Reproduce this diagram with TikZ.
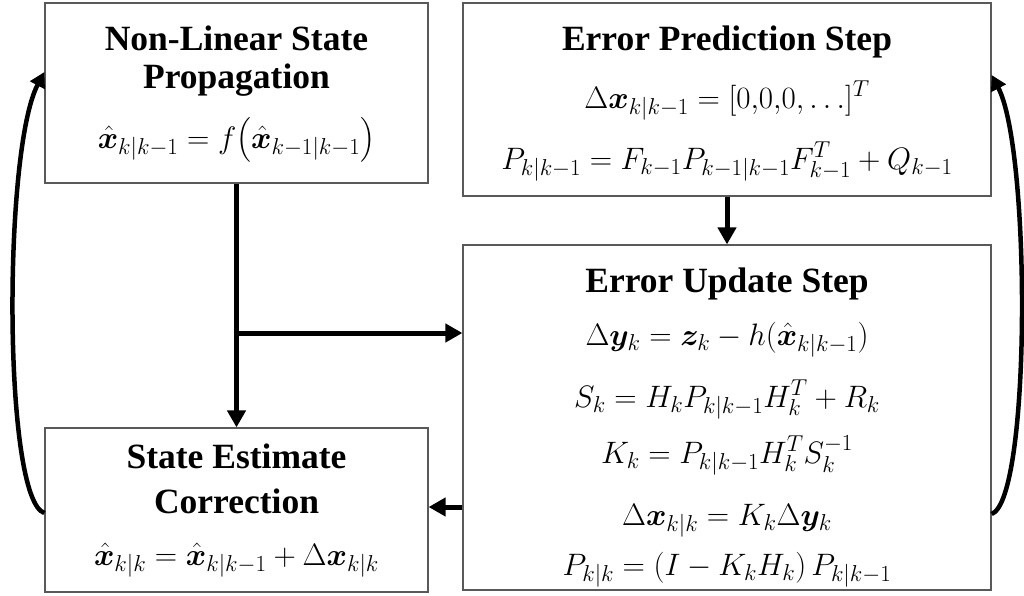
\RequirePackage{fix-cm}
\documentclass[tikz,border=0pt]{standalone}
\usepackage{amsmath}
\usepackage{bm}
\usepackage{fontspec}
\setmainfont{Liberation Serif}
\DeclareMathSizes{31}{31}{23}{17}
\usetikzlibrary{arrows.meta}
\begin{document}
\begin{tikzpicture}[x=1pt,y=-1pt,
  box/.style={draw=black!65, line width=1.2pt, inner sep=0pt, rectangle},
  ttl/.style={font=\fontsize{35.5}{39}\selectfont\bfseries, anchor=base, inner sep=0pt},
  eq/.style={font=\fontsize{31}{36}\selectfont, anchor=base, inner sep=0pt},
  arr/.style={line width=5pt, -{Triangle[length=17pt,width=18pt]}},
  carr/.style={line width=4.5pt, -{Triangle[length=15pt,width=16pt]}}]
\useasboundingbox (0,0) rectangle (1024,595);
% boxes
\node[box, minimum width=383pt, minimum height=180pt] (b1) at (236.5,93) {};
\node[box, minimum width=528pt, minimum height=193pt] (b2) at (727,99.5) {};
\node[box, minimum width=383pt, minimum height=164pt] (b3) at (236.5,510) {};
\node[box, minimum width=528pt, minimum height=345pt] (b4) at (727,417.5) {};
% box 1
\node[ttl] (t1a) at (236.5,50) {Non-Linear State};
\node[ttl] (t1b) at (236.5,88) {Propagation};
\node[eq] (e1) at (236.5,148) {$\hat{\bm{x}}_{k|k-1} = f\big(\hat{\bm{x}}_{k-1|k-1}\big)$};
% box 2
\node[ttl] (t2) at (727,50) {Error Prediction Step};
\node[eq] (e2a) at (727,108) {$\Delta\bm{x}_{k|k-1} = [0{,}0{,}0,\ldots]^T$};
\node[eq] (e2b) at (727,169) {$P_{k|k-1} = F_{k-1}P_{k-1|k-1}F_{k-1}^T + Q_{k-1}$};
% box 3
\node[ttl] (t3a) at (236.5,468) {State Estimate};
\node[ttl] (t3b) at (236.5,513) {Correction};
\node[eq] (e3) at (236.5,565) {$\hat{\bm{x}}_{k|k} = \hat{\bm{x}}_{k|k-1} + \Delta\bm{x}_{k|k}$};
% box 4
\node[ttl] (t4) at (727,292) {Error Update Step};
\node[eq] (e4a) at (727,345) {$\Delta\bm{y}_k = \bm{z}_k - h(\hat{\bm{x}}_{k|k-1})$};
\node[eq] (e4b) at (727,407) {$S_k = H_kP_{k|k-1}H_k^T + R_k$};
\node[eq] (e4c) at (727,463) {$K_k = P_{k|k-1}H_k^TS_k^{-1}$};
\node[eq] (e4d) at (727,525) {$\Delta\bm{x}_{k|k} = K_k\Delta\bm{y}_k$};
\node[eq] (e4e) at (727,575) {$P_{k|k} = (I - K_kH_k)\,P_{k|k-1}$};
% helper coordinates
\coordinate (j) at (236.5,333);
\coordinate (ya) at (0,507);
\coordinate (yl1) at (0,513);
\coordinate (yl2) at (0,72);
\coordinate (yr1) at (0,514);
\coordinate (yr2) at (0,75);
% connectors
\draw[arr] (b1.south) -- (b3.north);
\draw[arr] (j) -- (j -| b4.west);
\draw[arr] (b2.south) -- (b4.north);
\draw[arr] (b4.west |- ya) -- (b3.east |- ya);
\draw[carr] (b3.west |- yl1) .. controls (3,500) and (3,150) .. (b1.west |- yl2);
\draw[carr] (b4.east |- yr1) .. controls (1031,500) and (1031,150) .. (b2.east |- yr2);
\end{tikzpicture}
\end{document}
